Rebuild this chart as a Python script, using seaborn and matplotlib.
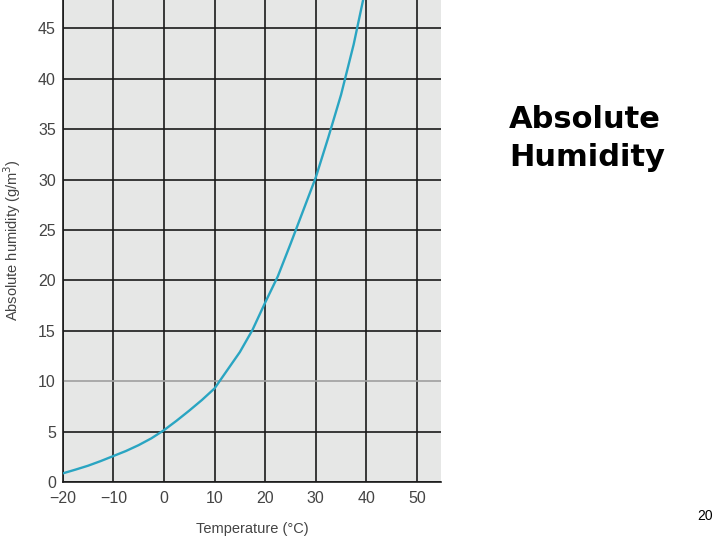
import matplotlib
matplotlib.use("Agg")
import matplotlib.pyplot as plt
import seaborn as sns
import pandas as pd

# values
temperature = [-20, -17.5, -15, -12.5, -10, -7.5, -5, -2.5, 0, 2.5, 5, 7.5,
               10, 12.5, 15, 17.5, 20, 22.5, 25, 27.5, 30, 32.5, 35, 37.5, 40]
humidity = [0.88, 1.25, 1.64, 2.1, 2.6, 3.1, 3.68, 4.35, 5.16, 6.1, 7.1, 8.15,
            9.3, 11.1, 12.9, 15.1, 17.8, 20.4, 23.6, 26.9, 30.2, 34.2, 38.4, 43.4, 49.3]
x_ticks = [-20, -10, 0, 10, 20, 30, 40, 50]
x_tick_labels = ["\u221220", "\u221210", "0", "10", "20", "30", "40", "50"]
y_ticks = [0, 5, 10, 15, 20, 25, 30, 35, 40, 45]

df = pd.DataFrame({"Temperature": temperature, "Humidity": humidity})

sns.set_theme(style="white")
plt.rcParams['font.family'] = ['Liberation Sans', 'DejaVu Sans']

fig = plt.figure(figsize=(7.2, 5.4), dpi=100)
ax = fig.add_axes([0.0871, 0.1069, 0.525, 0.8931])
ax.set_facecolor('#e6e7e6')

sns.lineplot(data=df, x="Temperature", y="Humidity", ax=ax,
             color='#2aa5c2', linewidth=1.7, zorder=3)

ax.set_xlim(-20, 54.7)
ax.set_ylim(0, 47.8)

# grid lines (dark, the 10 line is lighter)
for xv in x_ticks:
    ax.axvline(xv, color='#1a1a1a', linewidth=1.2, zorder=1)
for yv in y_ticks:
    col = '#a0a0a0' if yv == 10 else '#1a1a1a'
    ax.axhline(yv, color=col, linewidth=1.2, zorder=1)

ax.set_xticks(x_ticks)
ax.set_xticklabels(x_tick_labels)
ax.set_yticks(y_ticks)
ax.tick_params(axis='both', length=0, labelsize=11.5, labelcolor='#444444')
ax.tick_params(axis='x', pad=6)
ax.tick_params(axis='y', pad=5)

for s in ['top', 'right']:
    ax.spines[s].set_visible(False)
for s in ['left', 'bottom']:
    ax.spines[s].set_color('#1a1a1a')
    ax.spines[s].set_linewidth(1.2)

ax.set_xlabel("Temperature (\u00b0C)", fontsize=10.5, color='#444444')
ax.set_ylabel("Absolute humidity (g/m$^3$)", fontsize=10.5, color='#444444')
# place labels as in the reference (centre points, pixel -> figure coords)
ax.xaxis.label.set_verticalalignment('center')
ax.yaxis.label.set_verticalalignment('center')
ax.xaxis.set_label_coords(252 / 720, 1 - 529 / 540, transform=fig.transFigure)
ax.yaxis.set_label_coords(12 / 720, 1 - 240 / 540, transform=fig.transFigure)

fig.text(0.707, 0.744, "Absolute\nHumidity", fontsize=22, fontweight='bold',
         color='black', family=['DejaVu Sans'], ha='left', va='center',
         linespacing=1.4)
fig.text(0.99, 0.044, "20", fontsize=10, color='black', ha='right', va='center')

fig.savefig("out.png", dpi=100)
